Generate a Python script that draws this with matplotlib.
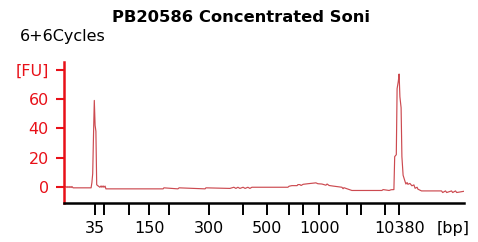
import numpy as np
import matplotlib
matplotlib.use("Agg")
import matplotlib.pyplot as plt

# ladder: migration position (arbitrary time units) and sizes in bp
ladder_time = [7.9, 10.2, 16.45, 21.45, 26.45, 36.45, 44.95, 50.95, 56.45, 59.95,
               63.95, 70.95, 74.45, 80.45, 83.95]
ladder_labels = ["35", "", "", "150", "", "300", "", "500", "", "",
                 "1000", "", "", "", "10380"]

fu_ticks = [0, 20, 40, 60, 80]
fu_labels = ["0", "20", "40", "60", "[FU]"]

# electropherogram trace
time = [0.0, 0.6, 0.9, 1.1, 1.4, 1.6, 1.9, 2.1, 2.4, 6.9,
        7.1, 7.3, 7.5, 7.7, 7.9, 8.1, 8.3, 8.6, 9.1, 9.4,
        9.6, 9.9, 10.1, 10.4, 10.6, 24.9, 25.1, 28.6, 28.9, 35.4,
        35.6, 41.6, 42.6, 43.1, 43.6, 44.1, 44.9, 45.4, 46.1, 46.6,
        47.1, 56.1, 56.4, 57.1, 58.4, 58.6, 59.1, 59.4, 59.9, 61.1,
        63.1, 63.6, 64.6, 65.6, 65.9, 66.4, 67.4, 69.6, 69.9, 70.1,
        72.1, 79.6, 79.9, 81.4, 81.9, 82.6, 82.8, 83.2, 83.4, 83.7,
        83.9, 84.1, 84.4, 84.6, 84.9, 85.4, 85.6, 85.9, 86.1, 86.6,
        87.1, 87.6, 87.9, 88.4, 88.6, 89.5, 94.5, 94.8, 95.5, 95.8,
        97.0, 97.3, 98.0, 98.3, 100.0]
fu = [-0.4, 0.3, -0.4, 0.3, -0.4, 0.3, -0.4, 0.3, -0.6, -0.6,
      3.0, 9.0, 35, 59, 42, 38, 1.5, 0.8, -0.2, 0.7,
      -0.2, 0.7, -0.2, 0.6, -1.3, -1.3, -0.6, -1.3, -0.6, -1.3,
      -0.6, -1.0, -0.2, -1.0, -0.2, -1.0, -0.2, -1.0, -0.2, -1.0,
      -0.2, -0.2, 0.5, 0.9, 0.9, 1.6, 1.6, 1.0, 1.8, 2.2,
      2.8, 2.2, 2.0, 1.2, 2.0, 1.0, 0.6, -0.2, -1.2, -0.5,
      -2.4, -2.4, -1.8, -2.4, -1.9, -1.8, 20.7, 22, 67, 72,
      77, 61.5, 54, 20.7, 8, 3.6, 2.0, 3.0, 1.8, 2.4,
      0.8, 1.4, -0.9, -0.2, -1.5, -2.7, -2.7, -3.8, -2.7, -3.8,
      -2.7, -3.8, -2.7, -3.8, -3.0]

W, H = 478, 242
fig = plt.figure(figsize=(W / 100, H / 100), dpi=100)
ax = fig.add_axes([63.5 / W, (H - 202.5) / H, 400 / W, 140.5 / H])

ax.plot(time, fu, color="#cc4a50", lw=0.85)
ax.set_xlim(0, 100)
ax.set_ylim(-10.6, 85.2)

red = "#e81018"
ax.spines["top"].set_visible(False)
ax.spines["right"].set_visible(False)
ax.spines["left"].set_color(red)
ax.spines["left"].set_linewidth(1.8)
ax.spines["bottom"].set_color("black")
ax.spines["bottom"].set_linewidth(1.8)

ax.set_yticks(fu_ticks)
ax.set_yticklabels(fu_labels)
ax.tick_params(axis="y", colors=red, length=5.5, width=1.5, pad=5, labelsize=11.5)

ax.set_xticks(ladder_time)
ax.set_xticklabels(ladder_labels)
ax.tick_params(axis="x", colors="black", length=8.5, width=1.4, pad=5, labelsize=11.5)

fig.text(241 / W, 1 - 17 / H, "PB20586 Concentrated Soni", ha="center", va="center",
         fontsize=11.8, fontweight="bold")
fig.text(20 / W, 1 - 36 / H, "6+6Cycles", ha="left", va="center", fontsize=11.5)
fig.text(453 / W, 1 - 229 / H, "[bp]", ha="center", va="center", fontsize=11.5)

fig.savefig("out.png", dpi=100)
